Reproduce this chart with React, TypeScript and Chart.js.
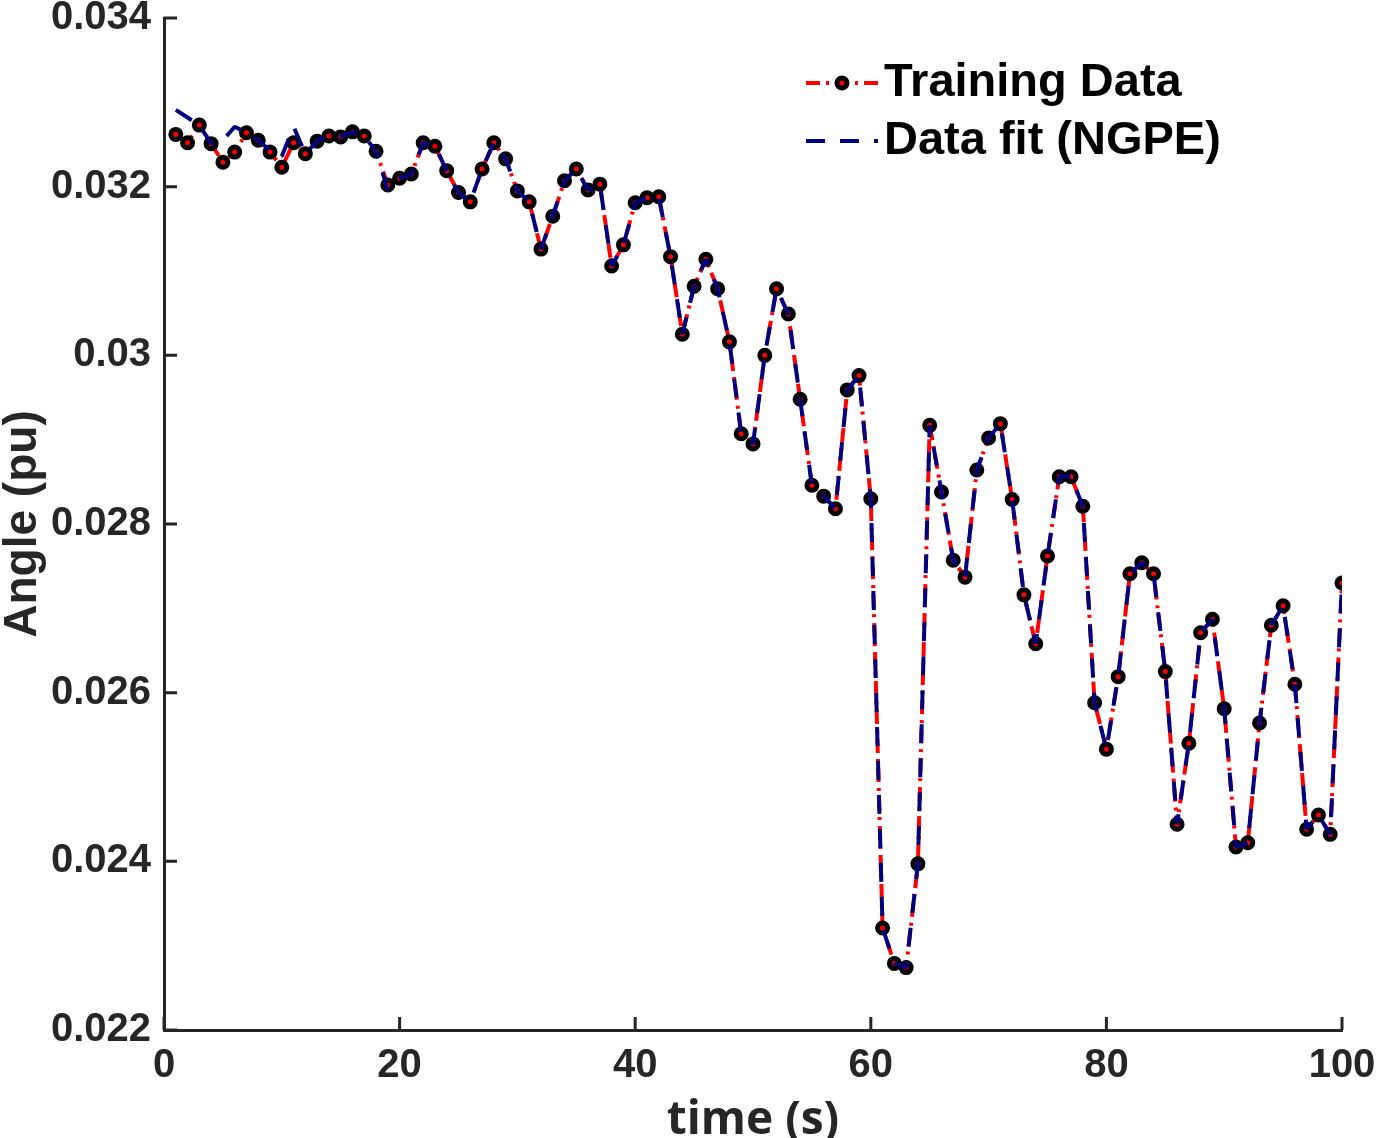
import { useEffect, useRef } from "react"
import { Chart, registerables, Plugin } from "chart.js"

Chart.register(...registerables)

// time stamps (s)
const timeSec = [
  1, 2, 3, 4, 5, 6, 7, 8, 9, 10, 11, 12, 13, 14, 15, 16, 17, 18, 19, 20,
  21, 22, 23, 24, 25, 26, 27, 28, 29, 30, 31, 32, 33, 34, 35, 36, 37, 38, 39, 40,
  41, 42, 43, 44, 45, 46, 47, 48, 49, 50, 51, 52, 53, 54, 55, 56, 57, 58, 59, 60,
  61, 62, 63, 64, 65, 66, 67, 68, 69, 70, 71, 72, 73, 74, 75, 76, 77, 78, 79, 80,
  81, 82, 83, 84, 85, 86, 87, 88, 89, 90, 91, 92, 93, 94, 95, 96, 97, 98, 99, 100,
]

const trainingAngle = [
  0.03262, 0.03252, 0.03273, 0.03251, 0.03229, 0.03241, 0.03264, 0.03255, 0.03241, 0.03223,
  0.03252, 0.03239, 0.03254, 0.0326, 0.03259, 0.03265, 0.0326, 0.03242, 0.03202, 0.0321,
  0.03215, 0.03252, 0.03248, 0.03219, 0.03193, 0.03182, 0.03221, 0.03252, 0.03233, 0.03195,
  0.03182, 0.03126, 0.03165, 0.03207, 0.03221, 0.03196, 0.03203, 0.03106, 0.03131, 0.03181,
  0.03187, 0.03188, 0.03117, 0.03025, 0.03082, 0.03114, 0.03079, 0.03016, 0.02907, 0.02895,
  0.03, 0.03079, 0.03049, 0.02948, 0.02846, 0.02833, 0.02818, 0.02959, 0.02976, 0.0283,
  0.02321, 0.02279, 0.02274, 0.02397, 0.02917, 0.02838, 0.02757, 0.02737, 0.02864, 0.02902,
  0.02919, 0.02829, 0.02716, 0.02658, 0.02762, 0.02856, 0.02856, 0.02821, 0.02588, 0.02533,
  0.02619, 0.02741, 0.02754, 0.02741, 0.02625, 0.02444, 0.0254, 0.02671, 0.02687, 0.02581,
  0.02417, 0.02422, 0.02564, 0.0268, 0.02703, 0.0261, 0.02438, 0.02455, 0.02432, 0.0273,
]

const fitAngle = [
  0.03291, 0.03282, 0.03273, 0.03251, 0.03255, 0.03271, 0.03264, 0.03255, 0.03243, 0.03236,
  0.03271, 0.03239, 0.03254, 0.0326, 0.03259, 0.03265, 0.0326, 0.03242, 0.03196, 0.0321,
  0.03215, 0.03252, 0.03248, 0.03219, 0.03193, 0.03182, 0.03221, 0.03252, 0.03233, 0.03195,
  0.03182, 0.03126, 0.03165, 0.03207, 0.03221, 0.03196, 0.03203, 0.03106, 0.03131, 0.03181,
  0.03187, 0.03188, 0.03117, 0.03025, 0.03082, 0.03114, 0.03079, 0.03016, 0.02907, 0.02895,
  0.03, 0.03079, 0.03049, 0.02948, 0.02846, 0.02833, 0.02818, 0.02959, 0.02976, 0.0283,
  0.02321, 0.02279, 0.02274, 0.02397, 0.02917, 0.02838, 0.02757, 0.02737, 0.02864, 0.02902,
  0.02919, 0.02829, 0.02716, 0.02658, 0.02762, 0.02856, 0.02856, 0.02821, 0.02588, 0.02533,
  0.02619, 0.02741, 0.02754, 0.02741, 0.02625, 0.02444, 0.0254, 0.02671, 0.02687, 0.02581,
  0.02417, 0.02422, 0.02564, 0.0268, 0.02703, 0.0261, 0.02438, 0.02455, 0.02432, 0.0273,
]

const xTicks = [0, 20, 40, 60, 80, 100]
const yTicks = [0.022, 0.024, 0.026, 0.028, 0.03, 0.032, 0.034]

const FONT = '"Liberation Sans", Arial, Helvetica, sans-serif'
const AXIS = "#262626"
const RED = "#ff0000"
const NAVY = "#00007f"
const RED_DASH = [14, 6, 3, 6]
const NAVY_DASH = [19, 15]

// MATLAB-style ticks pointing into the plot
const inwardTicks: Plugin = {
  id: "inwardTicks",
  afterDraw(chart) {
    const { ctx, chartArea, scales } = chart
    ctx.save()
    ctx.strokeStyle = AXIS
    ctx.lineWidth = 3
    ctx.beginPath()
    scales.x.ticks.forEach((t) => {
      const px = scales.x.getPixelForValue(t.value)
      ctx.moveTo(px, chartArea.bottom)
      ctx.lineTo(px, chartArea.bottom - 13)
    })
    scales.y.ticks.forEach((t) => {
      const py = scales.y.getPixelForValue(t.value)
      ctx.moveTo(chartArea.left, py)
      ctx.lineTo(chartArea.left + 13, py)
    })
    ctx.stroke()
    ctx.restore()
  },
}

// legend with line samples, top right inside the axes
const lineLegend: Plugin = {
  id: "lineLegend",
  afterDraw(chart) {
    const { ctx, chartArea } = chart
    const x0 = chartArea.left + 642
    const x1 = x0 + 72
    const rows = [
      { label: "Training Data", color: RED, dash: RED_DASH, marker: true, y: chartArea.top + 65 },
      { label: "Data fit (NGPE)", color: NAVY, dash: NAVY_DASH, marker: false, y: chartArea.top + 123 },
    ]
    ctx.save()
    rows.forEach((r) => {
      ctx.strokeStyle = r.color
      ctx.lineWidth = 4
      ctx.setLineDash(r.dash)
      ctx.beginPath()
      ctx.moveTo(x0, r.y)
      ctx.lineTo(x1, r.y)
      ctx.stroke()
      ctx.setLineDash([])
      if (r.marker) {
        ctx.beginPath()
        ctx.arc((x0 + x1) / 2, r.y, 5, 0, Math.PI * 2)
        ctx.fillStyle = RED
        ctx.fill()
        ctx.lineWidth = 5
        ctx.strokeStyle = "#000"
        ctx.stroke()
      }
      ctx.fillStyle = "#000"
      ctx.font = `bold 47px ${FONT}`
      ctx.textBaseline = "middle"
      ctx.textAlign = "left"
      ctx.fillText(r.label, x1 + 6, r.y)
    })
    ctx.restore()
  },
}

export default function App() {
  const chartRef = useRef<HTMLCanvasElement>(null)
  const chartInstance = useRef<Chart | null>(null)

  useEffect(() => {
    document.body.style.margin = "0"
    if (!chartRef.current) return
    if (chartInstance.current) chartInstance.current.destroy()
    const ctx = chartRef.current.getContext("2d")
    if (!ctx) return

    chartInstance.current = new Chart(ctx, {
      type: "line",
      data: {
        datasets: [
          {
            label: "Training Data",
            data: timeSec.map((t, i) => ({ x: t, y: trainingAngle[i] })),
            borderColor: RED,
            borderWidth: 4,
            borderDash: RED_DASH,
            borderJoinStyle: "bevel",
            pointRadius: 5,
            pointBorderWidth: 5,
            pointBackgroundColor: RED,
            pointBorderColor: "#000",
            tension: 0,
            order: 2,
          },
          {
            label: "Data fit (NGPE)",
            data: timeSec.map((t, i) => ({ x: t, y: fitAngle[i] })),
            borderColor: NAVY,
            borderWidth: 4,
            borderDash: NAVY_DASH,
            borderJoinStyle: "bevel",
            pointRadius: 0,
            tension: 0,
            order: 1,
          },
        ],
      },
      options: {
        responsive: false,
        animation: false,
        devicePixelRatio: 1,
        layout: { padding: { top: 18, right: 38, left: 0, bottom: 0 } },
        plugins: {
          legend: { display: false },
          tooltip: { enabled: false },
        },
        scales: {
          x: {
            type: "linear",
            min: 0,
            max: 100,
            afterBuildTicks: (s) => {
              s.ticks = xTicks.map((v) => ({ value: v }))
            },
            afterFit: (s) => {
              s.height = 108
              s.paddingLeft = 0
              s.paddingRight = 0
            },
            grid: { display: false, drawTicks: false },
            border: { display: true, color: AXIS, width: 3 },
            ticks: {
              color: AXIS,
              padding: 12,
              maxRotation: 0,
              font: { family: FONT, size: 40, weight: "bold" },
            },
            title: {
              display: true,
              text: "time (s)",
              color: AXIS,
              padding: { top: 0, bottom: -10 },
              font: { family: '"Open Sans", ' + FONT, size: 46, weight: "bold", lineHeight: 1.2 },
            },
          },
          y: {
            type: "linear",
            min: 0.022,
            max: 0.034,
            afterBuildTicks: (s) => {
              s.ticks = yTicks.map((v) => ({ value: v }))
            },
            afterFit: (s) => {
              s.width = 164
              s.paddingTop = 0
              s.paddingBottom = 0
            },
            grid: { display: false, drawTicks: false },
            border: { display: true, color: AXIS, width: 3 },
            ticks: {
              color: AXIS,
              padding: 13,
              callback: (v) => String(parseFloat(Number(v).toFixed(3))),
              font: { family: FONT, size: 40, weight: "bold" },
            },
            title: {
              display: true,
              text: "Angle (pu)",
              color: AXIS,
              padding: { top: 0, bottom: 0 },
              font: { family: FONT, size: 46, weight: "bold", lineHeight: 1.0 },
            },
          },
        },
      },
      plugins: [inwardTicks, lineLegend],
    })

    return () => {
      if (chartInstance.current) {
        chartInstance.current.destroy()
        chartInstance.current = null
      }
    }
  }, [])

  return <canvas ref={chartRef} width={1380} height={1138} style={{ display: "block" }} />
}
